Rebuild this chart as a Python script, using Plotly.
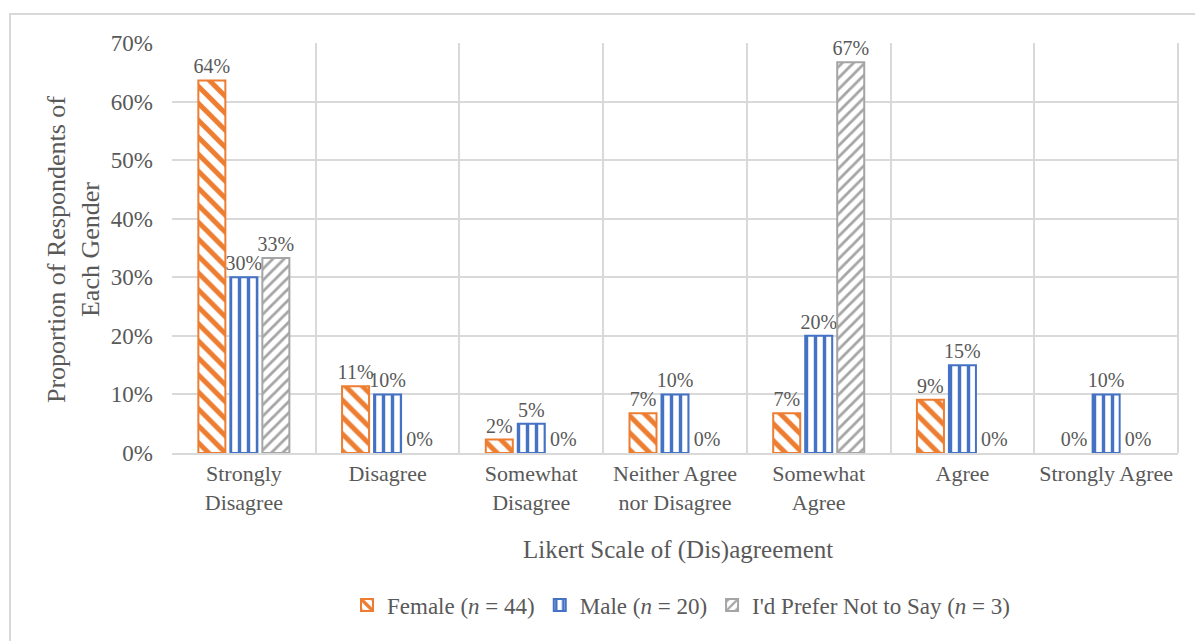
import plotly.graph_objects as go

# Likert categories and share of respondents per gender
categories = ["Strongly<br>Disagree", "Disagree", "Somewhat<br>Disagree",
              "Neither Agree<br>nor Disagree", "Somewhat<br>Agree", "Agree",
              "Strongly Agree"]
female = [0.636, 0.114, 0.023, 0.068, 0.068, 0.091, 0.0]
male = [0.30, 0.10, 0.05, 0.10, 0.20, 0.15, 0.10]
prefer_not = [0.333, 0.0, 0.0, 0.0, 0.667, 0.0, 0.0]

series_names = ["Female (<i>n</i> = 44)", "Male (<i>n</i> = 20)",
                "I'd Prefer Not to Say (<i>n</i> = 3)"]
y_ticks = [0, 0.1, 0.2, 0.3, 0.4, 0.5, 0.6, 0.7]

FONT = "Liberation Serif"
TEXT = "#595959"
GRID = "#d9d9d9"

W, H = 1195, 641
L, R, T, B = 172, 17, 43, 188
PW, PH = W - L - R, H - T - B


def px_x(x):
    return (x - L) / PW


def px_y(y):
    return (H - B - y) / PH


styles = [
    dict(color="#ED7D31", shape="\\", size=12, solidity=0.42),
    dict(color="#4472C4", shape="|", size=9, solidity=0.38),
    dict(color="#A5A5A5", shape="/", size=8, solidity=0.35),
]

fig = go.Figure()
for name, vals, st in zip(series_names, [female, male, prefer_not], styles):
    fig.add_trace(go.Bar(
        x=categories, y=vals, name=name,
        marker=dict(
            color="white",
            # no outline on empty bars so nothing is drawn at zero
            line=dict(color=st["color"], width=[2 if v > 0 else 0 for v in vals]),
            pattern=dict(shape=st["shape"], fgcolor=st["color"], bgcolor="white",
                         fillmode="replace", size=st["size"],
                         solidity=st["solidity"], fgopacity=1),
        ),
        texttemplate="%{y:.0%}", textposition="outside",
        textfont=dict(family=FONT, size=20, color=TEXT),
        constraintext="none", cliponaxis=False,
    ))

fig.update_layout(
    width=W, height=H,
    margin=dict(l=L, r=R, t=T, b=B),
    paper_bgcolor="white", plot_bgcolor="white",
    barmode="group", bargap=0.332, bargroupgap=0.156,
    font=dict(family=FONT, color=TEXT),
    showlegend=True,
    legend=dict(orientation="h", x=px_x(681), xanchor="center",
                y=px_y(605), yanchor="middle",
                font=dict(family=FONT, size=23, color=TEXT),
                itemwidth=30, traceorder="normal"),
    xaxis=dict(type="category", tickson="boundaries", showgrid=True,
               gridcolor=GRID, gridwidth=2, showline=True, linecolor=GRID,
               linewidth=2, ticks="", tickfont=dict(family=FONT, size=22, color=TEXT),
               mirror=False),
    yaxis=dict(range=[0, 0.7], tickvals=y_ticks, tickformat=".0%",
               showgrid=True, gridcolor=GRID, gridwidth=2, zeroline=False,
               showline=False, ticks="", ticklabelstandoff=18,
               tickfont=dict(family=FONT, size=23, color=TEXT)),
    annotations=[
        dict(text="Proportion of Respondents of<br>Each Gender", textangle=-90,
             x=px_x(73), y=px_y(250), xref="paper", yref="paper",
             xanchor="center", yanchor="middle", showarrow=False,
             font=dict(family=FONT, size=26, color=TEXT)),
        dict(text="Likert Scale of (Dis)agreement",
             x=px_x(678), y=px_y(550), xref="paper", yref="paper",
             xanchor="center", yanchor="middle", showarrow=False,
             font=dict(family=FONT, size=25, color=TEXT)),
    ],
    shapes=[
        dict(type="rect", xref="paper", yref="paper",
             x0=px_x(10), x1=px_x(1200), y0=px_y(650), y1=px_y(14),
             line=dict(color=GRID, width=2), fillcolor="rgba(0,0,0,0)",
             layer="below"),
        dict(type="line", xref="paper", yref="paper", x0=1, x1=1, y0=0, y1=1,
             line=dict(color=GRID, width=2)),
    ],
)

fig.write_html("out.html")
